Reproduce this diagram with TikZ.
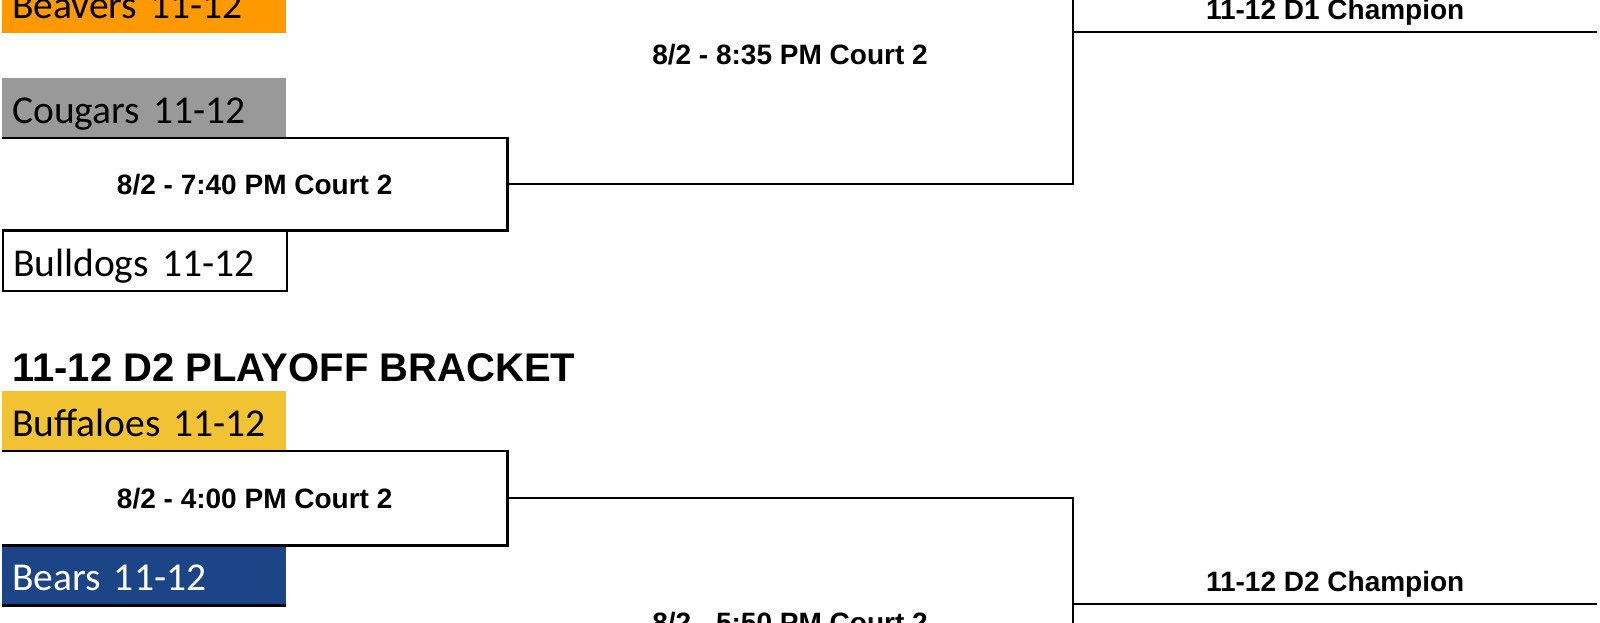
\documentclass[tikz,border=0pt]{standalone}
\usepackage{fontspec}
\setmainfont{Liberation Sans}
\newfontfamily\teamfont[WordSpace=0.8]{Carlito}
\definecolor{beaverorange}{HTML}{FF9900}
\definecolor{cougargray}{HTML}{999999}
\definecolor{buffyellow}{HTML}{F1C232}
\definecolor{bearblue}{HTML}{1C4587}
\begin{document}
\begin{tikzpicture}[x=1pt,y=-1pt,
  team/.style={rectangle, inner xsep=10pt, inner ysep=0pt, text width=264pt, align=left,
    minimum width=284pt, text height=45pt, text depth=15pt,
    font=\teamfont\fontsize{39.5}{39.5}\selectfont, anchor=north west},
  matchbox/.style={rectangle, inner sep=0pt, font=\bfseries\fontsize{28}{28}\selectfont, anchor=north west},
  matchlabel/.style={inner sep=0pt, font=\bfseries\fontsize{28}{28}\selectfont},
  champ/.style={rectangle, inner sep=0pt, minimum width=524pt, text height=20pt, text depth=12pt,
    font=\bfseries\fontsize{28}{28}\selectfont, anchor=south west},
  bracket/.style={line width=2.2pt, black}]
\useasboundingbox (0,0) rectangle (1600,623);
\fill[white] (0,0) rectangle (1600,623);
\clip (0,0) rectangle (1600,623);

% ---------- D1 ----------
\node[team, fill=beaverorange] (beavers) at (2,-27) {Beavers 11-12};
\node[team, fill=cougargray] (cougars) at (2,78) {Cougars 11-12};
\node[matchbox, minimum width=505pt, minimum height=92pt] (m1) at (2,138) {8/2 - 7:40 PM Court 2};
\node[team, fill=white, draw=black, line width=2.2pt] (bulldogs) at (2,230) {Bulldogs 11-12};
\draw[bracket] (m1.north west) -- (m1.north east) -- (m1.south east) -- (m1.south west);

\node[matchlabel] (f1) at (790,55) {8/2 - 8:35 PM Court 2};
\coordinate (f1top) at (1073,-20);
\draw[bracket] (m1.east) -| (f1top);

\node[champ] (c1) at (1073,32) {11-12 D1 Champion};
\draw[bracket] (c1.south west) -- (c1.south east);

% ---------- D2 ----------
\node[anchor=base west, inner sep=0pt, font=\bfseries\fontsize{40}{40}\selectfont] (title) at (12,381) {11-12 D2 PLAYOFF BRACKET};

\node[team, fill=buffyellow] (buffaloes) at (2,391) {Buffaloes 11-12};
\node[matchbox, minimum width=505pt, minimum height=94pt] (m2) at (2,451) {8/2 - 4:00 PM Court 2};
\node[team, fill=bearblue, text=white] (bears) at (2,545) {Bears 11-12};
\draw[bracket] (bears.south west) -- (bears.south east);
\draw[bracket] (m2.north west) -- (m2.north east) -- (m2.south east) -- (m2.south west);

\node[matchlabel] (f2) at (790,623) {8/2 - 5:50 PM Court 2};
\coordinate (f2bottom) at (1073,650);
\draw[bracket] (m2.east) -| (f2bottom);

\node[champ] (c2) at (1073,604) {11-12 D2 Champion};
\draw[bracket] (c2.south west) -- (c2.south east);
\end{tikzpicture}
\end{document}
